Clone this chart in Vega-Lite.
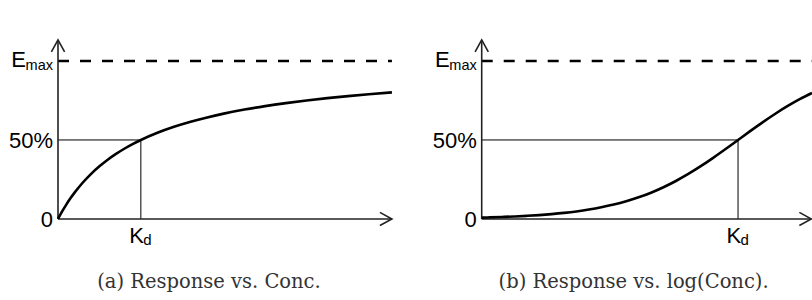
{
  "$schema": "https://vega.github.io/schema/vega-lite/v6.json",
  "padding": 0,
  "spacing": 0,
  "background": "white",
  "config": {"view": {"stroke": null}},
  "resolve": {"scale": {"x": "independent", "y": "independent"}},
  "hconcat": [
    {
      "width": 406,
      "height": 300,
      "encoding": {
        "x": {"field": "x", "type": "quantitative", "scale": {"domain": [-0.7, 4.2], "nice": false, "zero": false}, "axis": null},
        "y": {"field": "y", "type": "quantitative", "scale": {"domain": [-0.513, 1.386], "nice": false, "zero": false}, "axis": null}
      },
      "layer": [
        {
          "data": {"values": [{"x": 0, "y": 1, "x2": 4.03, "y2": 1}]},
          "mark": {"type": "rule", "color": "black", "strokeWidth": 2.6, "strokeDash": [11, 11]},
          "encoding": {"x2": {"field": "x2"}, "y2": {"field": "y2"}}
        },
        {
          "data": {"values": [{"x": 0, "y": 0.5, "x2": 1, "y2": 0.5}, {"x": 1, "y": 0, "x2": 1, "y2": 0.5}]},
          "mark": {"type": "rule", "color": "black", "strokeWidth": 1},
          "encoding": {"x2": {"field": "x2"}, "y2": {"field": "y2"}}
        },
        {
          "data": {"values": [{"x": 0, "y": 0, "x2": 4.03, "y2": 0}, {"x": 0, "y": 0, "x2": 0, "y2": 1.133}]},
          "mark": {"type": "rule", "color": "#222", "strokeWidth": 1.6},
          "encoding": {"x2": {"field": "x2"}, "y2": {"field": "y2"}}
        },
        {
          "data": {"values": [
            {"x": 0, "y": 0}, {"x": 0.05, "y": 0.0476}, {"x": 0.1, "y": 0.0909}, {"x": 0.15, "y": 0.1304},
            {"x": 0.2, "y": 0.1667}, {"x": 0.3, "y": 0.2308}, {"x": 0.4, "y": 0.2857}, {"x": 0.5, "y": 0.3333},
            {"x": 0.6, "y": 0.375}, {"x": 0.7, "y": 0.4118}, {"x": 0.8, "y": 0.4444}, {"x": 0.9, "y": 0.4737},
            {"x": 1.0, "y": 0.5}, {"x": 1.2, "y": 0.5455}, {"x": 1.4, "y": 0.5833}, {"x": 1.6, "y": 0.6154},
            {"x": 1.8, "y": 0.6429}, {"x": 2.0, "y": 0.6667}, {"x": 2.25, "y": 0.6923}, {"x": 2.5, "y": 0.7143},
            {"x": 2.75, "y": 0.7333}, {"x": 3.0, "y": 0.75}, {"x": 3.25, "y": 0.7647}, {"x": 3.5, "y": 0.7778},
            {"x": 3.75, "y": 0.7895}, {"x": 4.03, "y": 0.8012}
          ]},
          "mark": {"type": "line", "color": "black", "strokeWidth": 2.6, "interpolate": "monotone"},
          "encoding": {"order": {"field": "x", "type": "quantitative"}}
        },
        {
          "data": {"values": [{"x": 4.03, "y": 0, "dir": "right"}, {"x": 0, "y": 1.133, "dir": "up"}]},
          "mark": {"type": "point", "filled": false, "color": "#222", "strokeWidth": 1.6, "size": 576, "opacity": 1},
          "encoding": {"shape": {"field": "dir", "type": "nominal", "scale": {"domain": ["right", "up"], "range": ["M-1,-0.55L0,0L-1,0.55", "M-0.55,1L0,0L0.55,1"]}, "legend": null}}
        },
        {
          "data": {"values": [{"x": 0, "y": 0.5, "t": "50%"}, {"x": 0, "y": 0, "t": "0"}]},
          "mark": {"type": "text", "align": "right", "baseline": "alphabetic", "dx": -5, "dy": 8.5, "fontSize": 22, "font": "Liberation Sans", "color": "black"},
          "encoding": {"text": {"field": "t"}}
        },
        {
          "data": {"values": [{"x": 0, "y": 1, "t": "E"}]},
          "mark": {"type": "text", "align": "right", "baseline": "alphabetic", "dx": -32, "dy": 6.5, "fontSize": 22, "font": "Liberation Sans", "color": "black"},
          "encoding": {"text": {"field": "t"}}
        },
        {
          "data": {"values": [{"x": 0, "y": 1, "t": "max"}]},
          "mark": {"type": "text", "align": "right", "baseline": "alphabetic", "dx": -5, "dy": 9.5, "fontSize": 14.5, "font": "Liberation Sans", "color": "black"},
          "encoding": {"text": {"field": "t"}}
        },
        {
          "data": {"values": [{"x": 1, "y": 0, "t": "K"}]},
          "mark": {"type": "text", "align": "left", "baseline": "alphabetic", "dx": -11.5, "dy": 24, "fontSize": 22, "font": "Liberation Sans", "color": "black"},
          "encoding": {"text": {"field": "t"}}
        },
        {
          "data": {"values": [{"x": 1, "y": 0, "t": "d"}]},
          "mark": {"type": "text", "align": "left", "baseline": "alphabetic", "dx": 2.5, "dy": 26.5, "fontSize": 15, "font": "Liberation Sans", "color": "black"},
          "encoding": {"text": {"field": "t"}}
        },
        {
          "data": {"values": [{"x": 1.822, "y": -0.437, "t": "(a) Response vs. Conc."}]},
          "mark": {"type": "text", "align": "center", "baseline": "alphabetic", "fontSize": 19.5, "font": "DejaVu Serif", "color": "#333"},
          "encoding": {"text": {"field": "t"}}
        }
      ]
    },
    {
      "width": 406,
      "height": 300,
      "encoding": {
        "x": {"field": "x", "type": "quantitative", "scale": {"domain": [-2.671, 0.595], "nice": false, "zero": false}, "axis": null},
        "y": {"field": "y", "type": "quantitative", "scale": {"domain": [-0.513, 1.386], "nice": false, "zero": false}, "axis": null}
      },
      "layer": [
        {
          "data": {"values": [{"x": -2.062, "y": 1, "x2": 0.595, "y2": 1}]},
          "mark": {"type": "rule", "color": "black", "strokeWidth": 2.6, "strokeDash": [11, 11]},
          "encoding": {"x2": {"field": "x2"}, "y2": {"field": "y2"}}
        },
        {
          "data": {"values": [{"x": -2.062, "y": 0.5, "x2": 0, "y2": 0.5}, {"x": 0, "y": 0, "x2": 0, "y2": 0.5}]},
          "mark": {"type": "rule", "color": "black", "strokeWidth": 1},
          "encoding": {"x2": {"field": "x2"}, "y2": {"field": "y2"}}
        },
        {
          "data": {"values": [{"x": -2.062, "y": 0, "x2": 0.59, "y2": 0}, {"x": -2.062, "y": 0, "x2": -2.062, "y2": 1.133}]},
          "mark": {"type": "rule", "color": "#222", "strokeWidth": 1.6},
          "encoding": {"x2": {"field": "x2"}, "y2": {"field": "y2"}}
        },
        {
          "data": {"values": [
            {"x": -2.062, "y": 0.0086}, {"x": -2.0, "y": 0.0099}, {"x": -1.9, "y": 0.0124}, {"x": -1.8, "y": 0.0156},
            {"x": -1.7, "y": 0.0196}, {"x": -1.6, "y": 0.0245}, {"x": -1.5, "y": 0.0307}, {"x": -1.4, "y": 0.0383},
            {"x": -1.3, "y": 0.0477}, {"x": -1.2, "y": 0.0593}, {"x": -1.1, "y": 0.0736}, {"x": -1.0, "y": 0.0909},
            {"x": -0.9, "y": 0.1118}, {"x": -0.8, "y": 0.1368}, {"x": -0.7, "y": 0.1663}, {"x": -0.6, "y": 0.2008},
            {"x": -0.5, "y": 0.2403}, {"x": -0.4, "y": 0.2847}, {"x": -0.3, "y": 0.3339}, {"x": -0.2, "y": 0.3869},
            {"x": -0.1, "y": 0.4427}, {"x": 0.0, "y": 0.5}, {"x": 0.1, "y": 0.5573}, {"x": 0.2, "y": 0.6131},
            {"x": 0.3, "y": 0.6661}, {"x": 0.4, "y": 0.7153}, {"x": 0.5, "y": 0.7597}, {"x": 0.595, "y": 0.7974}
          ]},
          "mark": {"type": "line", "color": "black", "strokeWidth": 2.6, "interpolate": "monotone"},
          "encoding": {"order": {"field": "x", "type": "quantitative"}}
        },
        {
          "data": {"values": [{"x": 0.59, "y": 0, "dir": "right"}, {"x": -2.062, "y": 1.133, "dir": "up"}]},
          "mark": {"type": "point", "filled": false, "color": "#222", "strokeWidth": 1.6, "size": 576, "opacity": 1},
          "encoding": {"shape": {"field": "dir", "type": "nominal", "scale": {"domain": ["right", "up"], "range": ["M-1,-0.55L0,0L-1,0.55", "M-0.55,1L0,0L0.55,1"]}, "legend": null}}
        },
        {
          "data": {"values": [{"x": -2.062, "y": 0.5, "t": "50%"}, {"x": -2.062, "y": 0, "t": "0"}]},
          "mark": {"type": "text", "align": "right", "baseline": "alphabetic", "dx": -5, "dy": 8.5, "fontSize": 22, "font": "Liberation Sans", "color": "black"},
          "encoding": {"text": {"field": "t"}}
        },
        {
          "data": {"values": [{"x": -2.062, "y": 1, "t": "E"}]},
          "mark": {"type": "text", "align": "right", "baseline": "alphabetic", "dx": -32, "dy": 6.5, "fontSize": 22, "font": "Liberation Sans", "color": "black"},
          "encoding": {"text": {"field": "t"}}
        },
        {
          "data": {"values": [{"x": -2.062, "y": 1, "t": "max"}]},
          "mark": {"type": "text", "align": "right", "baseline": "alphabetic", "dx": -5, "dy": 9.5, "fontSize": 14.5, "font": "Liberation Sans", "color": "black"},
          "encoding": {"text": {"field": "t"}}
        },
        {
          "data": {"values": [{"x": 0, "y": 0, "t": "K"}]},
          "mark": {"type": "text", "align": "left", "baseline": "alphabetic", "dx": -11.5, "dy": 24, "fontSize": 22, "font": "Liberation Sans", "color": "black"},
          "encoding": {"text": {"field": "t"}}
        },
        {
          "data": {"values": [{"x": 0, "y": 0, "t": "d"}]},
          "mark": {"type": "text", "align": "left", "baseline": "alphabetic", "dx": 2.5, "dy": 26.5, "fontSize": 15, "font": "Liberation Sans", "color": "black"},
          "encoding": {"text": {"field": "t"}}
        },
        {
          "data": {"values": [{"x": -0.84, "y": -0.437, "t": "(b) Response vs. log(Conc)."}]},
          "mark": {"type": "text", "align": "center", "baseline": "alphabetic", "fontSize": 19.5, "font": "DejaVu Serif", "color": "#333"},
          "encoding": {"text": {"field": "t"}}
        }
      ]
    }
  ]
}
